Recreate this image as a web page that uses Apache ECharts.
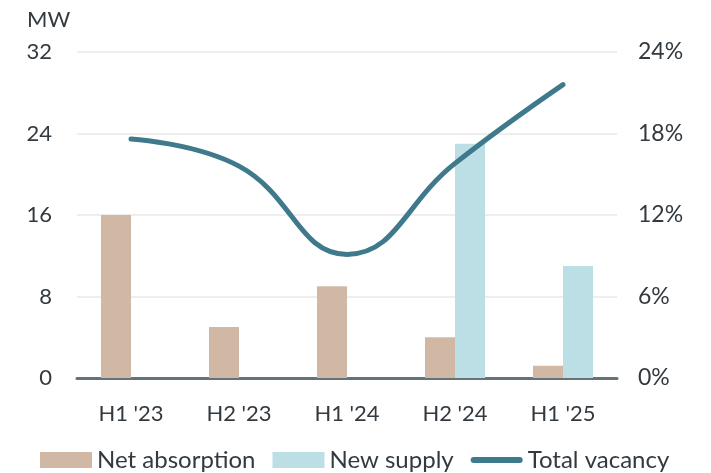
<!DOCTYPE html>
<html>
<head>
<meta charset="utf-8">
<script src="https://cdn.jsdelivr.net/npm/echarts@6/dist/echarts.min.js"></script>
<style>
  html, body { margin: 0; padding: 0; background: #fff; }
  #chart { width: 711px; height: 473px; }
</style>
</head>
<body>
<div id="chart"></div>
<script>
// Half-year periods
const periods = ["H1 '23", "H2 '23", "H1 '24", "H2 '24", "H1 '25"];
// Megawatts absorbed and delivered per period
const netAbsorption = [16, 5, 9, 4, 1.2];
const newSupply = [0, 0, 0, 23, 11];
// Vacancy rate, percent
const totalVacancy = [17.6, 15.6, 9.1, 15.8, 21.6];

const textColor = '#333a3f';
const fontFamily = 'Lato, "Noto Sans", sans-serif';
const vacancyColor = '#3f798c';

// Thick round-capped bar for the vacancy legend entry (framed to a 52x16 box)
const lineIcon = 'path://M0,0L0,0M52,16L52,16M3,5L49,5A3,3 0 0 1 49,11L3,11A3,3 0 0 1 3,5Z';

const chart = echarts.init(document.getElementById('chart'), null, { renderer: 'canvas' });

chart.setOption({
  animation: false,
  textStyle: { fontFamily: fontFamily },
  title: {
    text: 'MW',
    left: 22,
    top: 4,
    textStyle: { fontFamily: fontFamily, fontSize: 22, fontWeight: 'normal', color: textColor }
  },
  grid: { left: 77, right: 94, top: 52, bottom: 95 },
  legend: {
    top: 443,
    left: 35,
    itemWidth: 52,
    itemHeight: 16,
    itemGap: 17,
    textStyle: { fontFamily: fontFamily, fontSize: 24, color: textColor },
    data: [
      { name: 'Net absorption', icon: 'rect' },
      { name: 'New supply', icon: 'rect' },
      { name: 'Total vacancy', icon: lineIcon, itemStyle: { color: vacancyColor } }
    ]
  },
  xAxis: {
    type: 'category',
    data: periods,
    axisLine: { show: true, lineStyle: { color: '#64737a', width: 3 } },
    axisTick: { show: false },
    axisLabel: { color: textColor, fontSize: 22, margin: 25, fontFamily: fontFamily }
  },
  yAxis: [
    {
      type: 'value',
      min: 0,
      max: 32,
      interval: 8,
      axisLine: { show: false },
      axisTick: { show: false },
      axisLabel: { color: textColor, fontSize: 22, margin: 25, fontFamily: fontFamily },
      splitLine: { lineStyle: { color: '#eeeeee', width: 2 } }
    },
    {
      type: 'value',
      min: 0,
      max: 24,
      interval: 6,
      axisLine: { show: false },
      axisTick: { show: false },
      axisLabel: { color: textColor, fontSize: 23, margin: 21, fontFamily: fontFamily, formatter: '{value}%' },
      splitLine: { show: false }
    }
  ],
  series: [
    {
      name: 'Net absorption',
      type: 'bar',
      data: netAbsorption,
      barWidth: 30,
      barGap: '0%',
      itemStyle: { color: '#d1b8a5' }
    },
    {
      name: 'New supply',
      type: 'bar',
      data: newSupply,
      barWidth: 30,
      itemStyle: { color: '#bcdfe6' }
    },
    {
      name: 'Total vacancy',
      type: 'line',
      yAxisIndex: 1,
      data: totalVacancy,
      smooth: 0.45,
      symbol: 'none',
      lineStyle: { color: vacancyColor, width: 5, cap: 'round' },
      itemStyle: { color: vacancyColor },
      z: 5
    }
  ]
});
</script>
</body>
</html>
